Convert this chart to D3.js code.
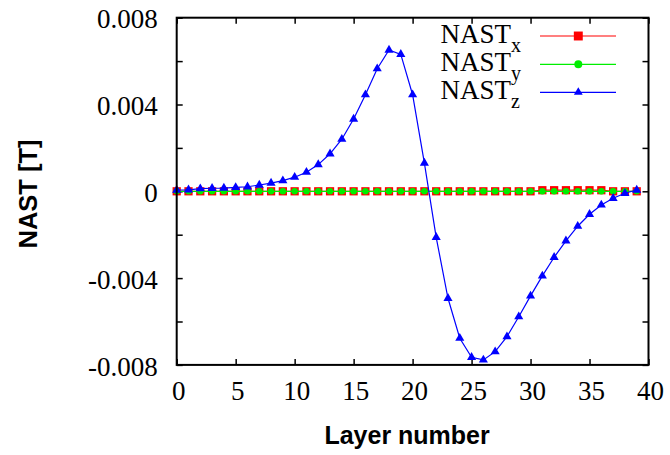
<!DOCTYPE html>
<html>
<head>
<meta charset="utf-8">
<script src="https://cdn.jsdelivr.net/npm/d3@7"></script>
<style>
  html, body { margin: 0; padding: 0; background: #fff; }
  svg { display: block; }
</style>
</head>
<body>
<svg id="chart" width="670" height="455"></svg>
<script>
// Layer indices along the stack
const layers = [0, 1, 2, 3, 4, 5, 6, 7, 8, 9, 10, 11, 12, 13, 14, 15, 16, 17, 18, 19,
                20, 21, 22, 23, 24, 25, 26, 27, 28, 29, 30, 31, 32, 33, 34, 35, 36, 37, 38, 39];

// Torque components per layer [T]
const nastX = [0, 0, 0, 0, 0, 0, 0, 0, 0, 0, 0, 0, 0, 0, 0, 0, 0, 0, 0, 0,
               0, 0, 0, 0, 0, 0, 0, 0, 0, 0, 0, 0.00005, 0.00005, 0.00005, 0.00005, 0.00005, 0.00005, 0, 0, 0];
const nastY = [0, 0, 0, 0, 0, 0, 0, 0, 0, 0, 0, 0, 0, 0, 0, 0, 0, 0, 0, 0,
               0, 0, 0, 0, 0, 0, 0, 0, 0, 0, 0, 0, 0, 0, 0, 0, 0, 0, 0, 0];
const nastZ = [0.00006, 0.00007, 0.00012, 0.00014, 0.00015, 0.00018, 0.00021, 0.00029, 0.00038, 0.00049,
               0.00065, 0.00088, 0.00123, 0.00173, 0.0024, 0.00333, 0.00445, 0.00565, 0.00651, 0.00631,
               0.00445, 0.0013, -0.00212, -0.00493, -0.00677, -0.00765, -0.00777, -0.00739, -0.0067, -0.00578,
               -0.00482, -0.0039, -0.00304, -0.00228, -0.00161, -0.00106, -0.00063, -0.00032, -0.00009, 0.00006];

// Axis ticks
const xTicks = [0, 5, 10, 15, 20, 25, 30, 35, 40];
const yTicks = [-0.008, -0.006, -0.004, -0.002, 0, 0.002, 0.004, 0.006, 0.008];
const yTickLabels = ["-0.008", "", "-0.004", "", "0", "", "0.004", "", "0.008"];

const seriesNames = ["x", "y", "z"];
const seriesColors = ["#ff0000", "#00ee00", "#0000ff"];

const svg = d3.select("#chart");
const plotLeft = 176.7, plotRight = 648.5, plotTop = 17.7, plotBottom = 364.9;

const x = d3.scaleLinear().domain([0, 40]).range([plotLeft, plotRight]);
const y = d3.scaleLinear().domain([-0.008, 0.008]).range([plotBottom, plotTop]);

const serif = "'Liberation Serif', 'Times New Roman', serif";
const sans = "'Liberation Sans', Arial, sans-serif";

// Ticks on all four sides, pointing inward
const tickLen = 6;
const axisB = d3.axisBottom(x).tickValues(xTicks).tickSize(-tickLen).tickPadding(16).tickFormat(d3.format("d"));
const axisT = d3.axisTop(x).tickValues(xTicks).tickSize(-tickLen).tickFormat("");
const axisL = d3.axisLeft(y).tickValues(yTicks).tickSize(-tickLen).tickPadding(19)
  .tickFormat((d, i) => yTickLabels[i]);
const axisR = d3.axisRight(y).tickValues(yTicks).tickSize(-tickLen).tickFormat("");

function styleAxis(g) {
  g.select(".domain").remove();
  g.selectAll(".tick line").attr("stroke", "#000").attr("stroke-width", 1.5);
  g.selectAll(".tick text").attr("fill", "#000").attr("font-family", serif).attr("font-size", 27);
}

svg.append("g").attr("transform", `translate(0,${plotBottom})`).call(axisB).call(styleAxis)
  .selectAll(".tick text").attr("dy", "0.71em").attr("dx", 1.5);
svg.append("g").attr("transform", `translate(0,${plotTop})`).call(axisT).call(styleAxis);
svg.append("g").attr("transform", `translate(${plotLeft},0)`).call(axisL).call(styleAxis)
  .selectAll(".tick text").attr("dy", "0.38em");
svg.append("g").attr("transform", `translate(${plotRight},0)`).call(axisR).call(styleAxis);

// Series: lines first, then markers
const series = [nastX, nastY, nastZ];
const symbols = [d3.symbolSquare, d3.symbolCircle, d3.symbolTriangle];
const symbolSizes = [68, 34, 36];

const line = d3.line().x((d, i) => x(layers[i])).y(d => y(d));

series.forEach((vals, s) => {
  const g = svg.append("g");
  g.append("path").datum(vals).attr("d", line)
    .attr("fill", "none").attr("stroke", seriesColors[s]).attr("stroke-width", 1.2);
  g.selectAll("path.pt").data(vals).join("path").attr("class", "pt")
    .attr("transform", (d, i) => `translate(${x(layers[i])},${y(d)})`)
    .attr("d", d3.symbol().type(symbols[s]).size(symbolSizes[s]))
    .attr("fill", seriesColors[s]);
});

// Frame
svg.append("rect").attr("x", plotLeft).attr("y", plotTop)
  .attr("width", plotRight - plotLeft).attr("height", plotBottom - plotTop)
  .attr("fill", "none").attr("stroke", "#000").attr("stroke-width", 2);

// Legend
const legendRows = [36, 64.3, 92.3];
const legendSizes = [80, 50, 34];
const legend = svg.append("g");
seriesNames.forEach((name, s) => {
  const ry = legendRows[s];
  const t = legend.append("text").attr("x", 440.5).attr("y", ry + 6.5)
    .attr("font-family", serif).attr("font-size", 27).attr("fill", "#000");
  t.append("tspan").text("NAST");
  t.append("tspan").attr("dy", 9).attr("font-size", 20).text(name);
  legend.append("line").attr("x1", 540).attr("x2", 616).attr("y1", ry).attr("y2", ry)
    .attr("stroke", seriesColors[s]).attr("stroke-width", 1.2);
  legend.append("path").attr("transform", `translate(578.3,${ry})`)
    .attr("d", d3.symbol().type(symbols[s]).size(legendSizes[s]))
    .attr("fill", seriesColors[s]);
});

// Axis titles
svg.append("text").attr("x", (plotLeft + plotRight) / 2 - 5.5).attr("y", 444)
  .attr("text-anchor", "middle").attr("font-family", sans).attr("font-weight", "bold")
  .attr("font-size", 25).attr("fill", "#000").text("Layer number");
svg.append("text").attr("transform", "translate(36.8,194) rotate(-90)")
  .attr("text-anchor", "middle").attr("font-family", sans).attr("font-weight", "bold")
  .attr("font-size", 25.5).attr("fill", "#000").text("NAST [T]");
</script>
</body>
</html>
